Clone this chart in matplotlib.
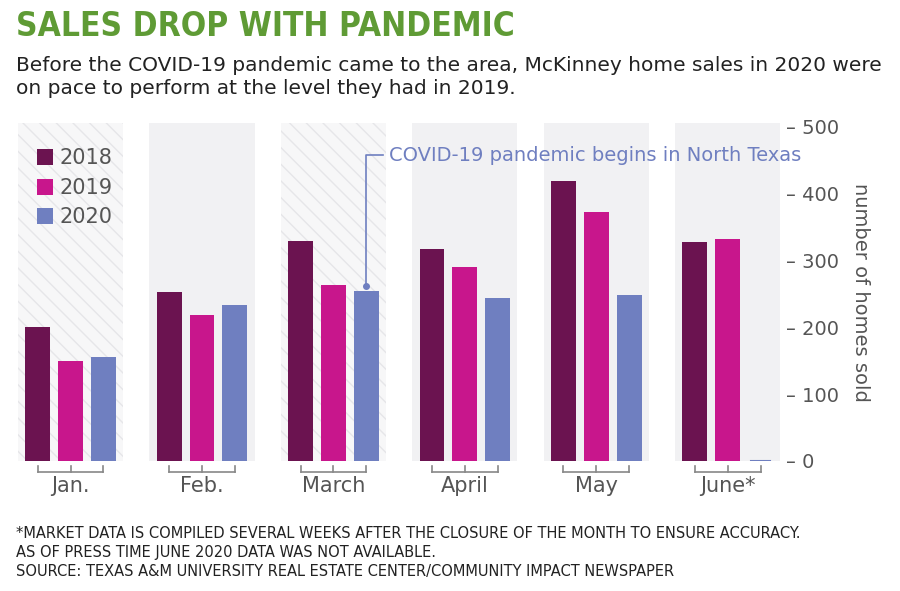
import matplotlib
matplotlib.use("Agg")
import matplotlib.pyplot as plt
import numpy as np

MONTHS = ["Jan.", "Feb.", "March", "April", "May", "June*"]
YEARS = ["2018", "2019", "2020"]
SALES_2018 = [200, 252, 328, 316, 418, 327]
SALES_2019 = [149, 218, 263, 290, 372, 331]
SALES_2020 = [155, 233, 254, 243, 248, 0]
YTICKS = [0, 100, 200, 300, 400, 500]

COLORS = ["#6b1350", "#c8168c", "#6f7fc0"]
BAR_W = 0.19
OFFSETS = [-0.25, 0.0, 0.25]


def main():
    fig = plt.figure(figsize=(9, 5.91), dpi=100)
    ax = fig.add_axes([0.02, 0.22, 0.847, 0.572])
    x = np.arange(len(MONTHS))

    # background panels: hatched for Jan/March, plain gray for the rest
    for i in x:
        if i in (0, 2):
            ax.bar(i, 505, width=0.8, color="#f7f7f8", edgecolor="#e6e6e9",
                   hatch="\\\\", linewidth=0, zorder=0)
        else:
            ax.bar(i, 505, width=0.8, color="#f1f1f3", linewidth=0, zorder=0)

    series = [SALES_2018, SALES_2019, SALES_2020]
    for vals, off, col, lab in zip(series, OFFSETS, COLORS, YEARS):
        ax.bar(x + off, vals, width=BAR_W, color=col, label=lab, zorder=2)

    ax.set_xlim(-0.4, 5.4)
    ax.set_ylim(0, 505)
    for s in ax.spines.values():
        s.set_visible(False)
    ax.set_xticks([])
    ax.yaxis.tick_right()
    ax.set_yticks(YTICKS)
    ax.set_yticklabels([f"– {t}" for t in YTICKS], fontsize=14, color="#555555")
    ax.tick_params(axis="y", length=0, pad=4)
    ax.set_ylabel("number of homes sold", rotation=-90, labelpad=22,
                  fontsize=14, color="#555555")
    ax.yaxis.set_label_position("right")

    # brackets and month labels below the bars
    for i, m in enumerate(MONTHS):
        y0, y1 = -8, -17
        ax.plot([i - 0.25, i + 0.25], [y1, y1], color="#888888", lw=1.2, clip_on=False)
        for off in OFFSETS:
            ax.plot([i + off, i + off], [y0, y1], color="#888888", lw=1.2, clip_on=False)
        ax.text(i, -37, m, ha="center", va="center", fontsize=15, color="#555555")

    # June 2020 not available: tiny baseline mark
    ax.plot([5.18, 5.32], [0, 0], color=COLORS[2], lw=1.5, zorder=3)

    # annotation
    xa = 2 + 0.25
    ax.plot([xa, xa, 2.38], [262, 457, 457], color=COLORS[2], lw=1.2, zorder=3)
    ax.plot(xa, 262, "o", color=COLORS[2], ms=4, zorder=3)
    ax.text(2.42, 457, "COVID-19 pandemic begins in North Texas", va="center",
            fontsize=14, color=COLORS[2])

    ax.legend(loc="upper left", bbox_to_anchor=(0.0, 0.98), frameon=False,
              fontsize=15, handlelength=0.8, handleheight=0.8, handletextpad=0.3,
              labelspacing=0.45, labelcolor="#555555")

    fig.text(0.018, 0.955, "SALES DROP WITH PANDEMIC", fontsize=24, fontweight="bold",
             color="#5f9b35", va="center", stretch="condensed")
    fig.text(0.018, 0.87, "Before the COVID-19 pandemic came to the area, McKinney home sales in 2020 were\n"
             "on pace to perform at the level they had in 2019.", fontsize=14.5,
             color="#222222", va="center", linespacing=1.3)
    fig.text(0.018, 0.065, "*MARKET DATA IS COMPILED SEVERAL WEEKS AFTER THE CLOSURE OF THE MONTH TO ENSURE ACCURACY.\n"
             "AS OF PRESS TIME JUNE 2020 DATA WAS NOT AVAILABLE.\n"
             "SOURCE: TEXAS A&M UNIVERSITY REAL ESTATE CENTER/COMMUNITY IMPACT NEWSPAPER",
             fontsize=10.5, color="#222222", va="center", linespacing=1.35)

    fig.savefig("out.png", dpi=100)


if __name__ == "__main__":
    main()
